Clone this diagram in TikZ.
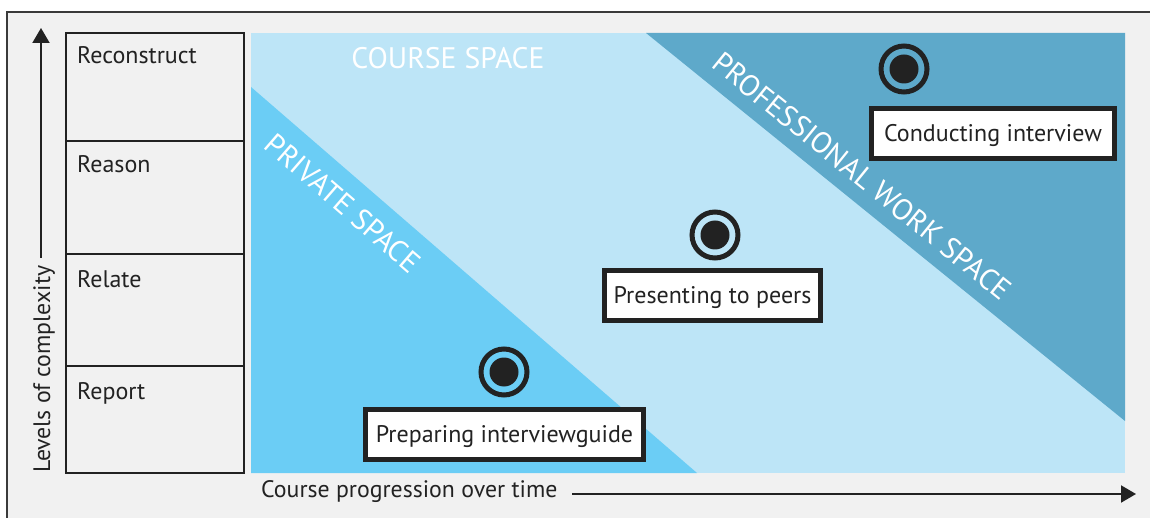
\documentclass[tikz,border=0pt]{standalone}
\usepackage{fontspec}
\setmainfont{PT Sans}
\usetikzlibrary{arrows.meta}

\definecolor{bgGray}{HTML}{F1F1F1}
\definecolor{frameGray}{HTML}{3A3A3A}
\definecolor{courseBlue}{HTML}{BDE5F7}
\definecolor{privateBlue}{HTML}{6BCDF5}
\definecolor{proBlue}{HTML}{5EA9CA}
\definecolor{ink}{HTML}{222222}

\tikzset{
  levelbox/.style={draw=ink, line width=2pt, minimum width=178pt, inner sep=0pt},
  leveltext/.style={anchor=base west, font=\fontsize{24}{26}\selectfont, text=ink, inner sep=0pt},
  axistext/.style={font=\fontsize{23.8}{26}\selectfont, text=ink, inner sep=0pt},
  axisarrow/.style={draw=ink, line width=2pt, -{Triangle[width=17pt,length=15pt]}},
  spacetext/.style={font=\fontsize{29.7}{32}\selectfont, text=white, inner sep=0pt},
  target/.style={circle, draw=ink, line width=5pt, minimum size=46pt, inner sep=0pt},
  targetdot/.style={circle, fill=ink, minimum size=29pt, inner sep=0pt},
  activity/.style={draw=ink, fill=white, line width=5pt, minimum height=50pt,
    inner sep=0pt, text height=16.8pt, text depth=0pt,
    font=\fontsize{24}{26}\selectfont, text=ink}
}

\begin{document}
\begin{tikzpicture}[x=1pt,y=-1pt]
\useasboundingbox (0,0) rectangle (1150,518);

% page background and frame
\fill[white] (0,0) rectangle (1150,518);
\fill[bgGray] (7,12) rectangle (1150,518);
\draw[frameGray, line width=1.5pt] (7,518) -- (7,12) -- (1150,12);

% the three spaces
\fill[courseBlue] (251,33) rectangle (1125,473);
\fill[privateBlue] (251,87) -- (697,473) -- (251,473) -- cycle;
\fill[proBlue] (646,33) -- (1125,33) -- (1125,421) -- cycle;

\node[spacetext] (course) at (448,58) {COURSE SPACE};
\node[spacetext, rotate=-40.9] (private) at (343,203) {PRIVATE SPACE};
\node[spacetext, rotate=-39] (professional) at (862,176) {PROFESSIONAL WORK SPACE};

% levels of complexity
\node[levelbox, minimum height=108pt] (lv4) at (155,87) {};
\node[levelbox, minimum height=113pt] (lv3) at (155,197.5) {};
\node[levelbox, minimum height=112pt] (lv2) at (155,310) {};
\node[levelbox, minimum height=107pt] (lv1) at (155,419.5) {};

\node[leveltext] (t4) at (77,64) {Reconstruct};
\node[leveltext] (t3) at (77,173) {Reason};
\node[leveltext] (t2) at (77,288) {Relate};
\node[leveltext] (t1) at (77,399) {Report};

% axes
\node[axistext, rotate=90, anchor=base west] (ylab) at (50,473) {Levels of complexity};
\coordinate (ystart) at (41,258);
\coordinate (ytip) at (41,28);
\draw[axisarrow] (ystart) -- (ytip);

\node[axistext, anchor=base west] (xlab) at (261,497) {Course progression over time};
\coordinate (xstart) at (572,494);
\coordinate (xtip) at (1136,494);
\draw[axisarrow] (xstart) -- (xtip);

% activities
\node[target] (c3) at (904,69) {};
\node[targetdot] (d3) at (c3) {};
\node[activity, minimum width=243pt] (a3) at (993,133.5) {Conducting interview};

\node[target] (c2) at (715,235) {};
\node[targetdot] (d2) at (c2) {};
\node[activity, minimum width=216pt] (a2) at (712.5,295.5) {Presenting to peers};

\node[target] (c1) at (504,372) {};
\node[targetdot] (d1) at (c1) {};
\node[activity, minimum width=278pt] (a1) at (504.5,434.5) {Preparing interviewguide};
\end{tikzpicture}
\end{document}
